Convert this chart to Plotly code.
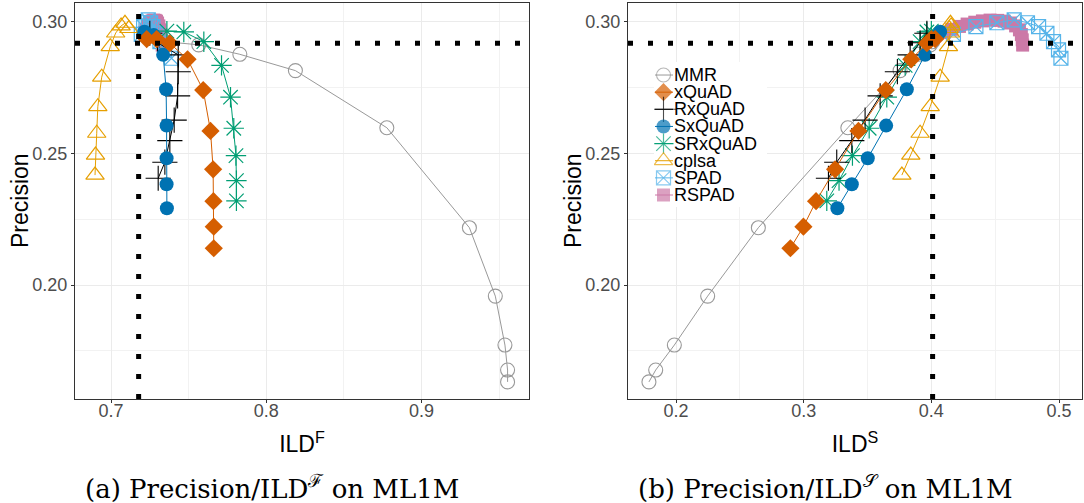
import plotly.graph_objects as go

# ---- data -------------------------------------------------------------
# Precision values are shared between the two panels; each method has one
# diversity array per panel (ILD over features / ILD over sessions).
mmr_prec = [0.2925, 0.2913, 0.2877, 0.2815, 0.2598, 0.2218, 0.1958, 0.1772, 0.1677, 0.1632]
mmr_ildf = [0.7350, 0.7565, 0.7830, 0.8188, 0.8777, 0.9309, 0.9476, 0.9538, 0.9555, 0.9555]
mmr_ilds = [0.4010, 0.3991, 0.3900, 0.3755, 0.3346, 0.2645, 0.2248, 0.1987, 0.1841, 0.1788]

xquad_prec = [0.2935, 0.2935, 0.2919, 0.2858, 0.2741, 0.2586, 0.2440, 0.2319, 0.2222, 0.2140]
xquad_ildf = [0.7230, 0.7294, 0.7379, 0.7493, 0.7594, 0.7641, 0.7658, 0.7660, 0.7662, 0.7662]
xquad_ilds = [0.4030, 0.4000, 0.3965, 0.3843, 0.3643, 0.3429, 0.3246, 0.3097, 0.2998, 0.2896]

rxquad_prec = [0.2957, 0.2921, 0.2875, 0.2811, 0.2719, 0.2627, 0.2549, 0.2467, 0.2406]
rxquad_ildf = [0.7250, 0.7300, 0.7433, 0.7433, 0.7429, 0.7407, 0.7379, 0.7347, 0.7304]
rxquad_ilds = [0.3965, 0.3912, 0.3834, 0.3734, 0.3599, 0.3481, 0.3377, 0.3259, 0.3194]

sxquad_prec = [0.2963, 0.2950, 0.2875, 0.2744, 0.2606, 0.2482, 0.2383, 0.2292]
sxquad_ildf = [0.7215, 0.7275, 0.7336, 0.7355, 0.7358, 0.7358, 0.7358, 0.7360]
sxquad_ilds = [0.4069, 0.4050, 0.3951, 0.3808, 0.3646, 0.3502, 0.3377, 0.3264]

srxquad_prec = [0.2965, 0.2962, 0.2925, 0.2835, 0.2714, 0.2596, 0.2492, 0.2397, 0.2320]
srxquad_ildf = [0.7360, 0.7469, 0.7598, 0.7712, 0.7770, 0.7791, 0.7805, 0.7808, 0.7808]
srxquad_ilds = [0.4000, 0.3965, 0.3912, 0.3795, 0.3651, 0.3513, 0.3382, 0.3277, 0.3181]

cplsa_prec = [0.2418, 0.2494, 0.2577, 0.2678, 0.2790, 0.2906, 0.2958, 0.2985, 0.2995, 0.2975]
cplsa_ildf = [0.6897, 0.6900, 0.6908, 0.6915, 0.6940, 0.6995, 0.7030, 0.7065, 0.7090, 0.7115]
cplsa_ilds = [0.3769, 0.3839, 0.3912, 0.3991, 0.4069, 0.4134, 0.4150, 0.4155, 0.4150, 0.4140]

spad_prec = [0.2953, 0.2982, 0.2997, 0.3008, 0.2997, 0.2982, 0.2957, 0.2925, 0.2894, 0.2862]
spad_ildf = [0.7195, 0.7210, 0.7225, 0.7240, 0.7255, 0.7270, 0.7290, 0.7315, 0.7345, 0.7390]
spad_ilds = [0.4173, 0.4349, 0.4513, 0.4649, 0.4753, 0.4840, 0.4905, 0.4957, 0.4996, 0.5015]

rspad_prec = [0.2960, 0.2972, 0.2983, 0.2992, 0.2999, 0.3004, 0.3007, 0.3006,
              0.3003, 0.2996, 0.2985, 0.2970, 0.2952, 0.2932, 0.2912]
rspad_ildf = [0.7215, 0.7225, 0.7235, 0.7245, 0.7255, 0.7265, 0.7275, 0.7285,
              0.7293, 0.7300, 0.7308, 0.7314, 0.7320, 0.7325, 0.7330]
rspad_ilds = [0.4100, 0.4160, 0.4220, 0.4280, 0.4340, 0.4400, 0.4460, 0.4520,
              0.4570, 0.4620, 0.4660, 0.4690, 0.4705, 0.4712, 0.4715]

# reference (undiversified) operating point
base_prec = 0.2919
base_ildf = 0.7178
base_ilds = 0.4010

method_names = ["MMR", "xQuAD", "RxQuAD", "SxQuAD", "SRxQuAD", "cplsa", "SPAD", "RSPAD"]

# ---- styling ------------------------------------------------------------
styles = {
    "MMR":     dict(color="#999999", symbol="circle-open",      size=14, lw=1.1),
    "xQuAD":   dict(color="#D55E00", symbol="diamond",          size=14, lw=0),
    "RxQuAD":  dict(color="#000000", symbol="cross-thin-open",  size=18, lw=1.1),
    "SxQuAD":  dict(color="#0072B2", symbol="circle",           size=14, lw=0),
    "SRxQuAD": dict(color="#009E73", symbol="asterisk-open",    size=17, lw=1.2),
    "cplsa":   dict(color="#E69F00", symbol="triangle-up-open", size=16, lw=1.2),
    "SPAD":    dict(color="#56B4E9", symbol="square-x-open",    size=14, lw=1.2),
    "RSPAD":   dict(color="#CC79A7", symbol="square",           size=13, lw=0),
}

series = {
    "MMR": (mmr_prec, mmr_ildf, mmr_ilds),
    "xQuAD": (xquad_prec, xquad_ildf, xquad_ilds),
    "RxQuAD": (rxquad_prec, rxquad_ildf, rxquad_ilds),
    "SxQuAD": (sxquad_prec, sxquad_ildf, sxquad_ilds),
    "SRxQuAD": (srxquad_prec, srxquad_ildf, srxquad_ilds),
    "cplsa": (cplsa_prec, cplsa_ildf, cplsa_ilds),
    "SPAD": (spad_prec, spad_ildf, spad_ilds),
    "RSPAD": (rspad_prec, rspad_ildf, rspad_ilds),
}

# drawing order, bottom to top
draw_order = ["RSPAD", "SPAD", "cplsa", "MMR", "SRxQuAD", "RxQuAD", "SxQuAD", "xQuAD"]

fig = go.Figure()
for name in draw_order:
    prec, ildf, ilds = series[name]
    st = styles[name]
    marker = dict(symbol=st["symbol"], size=st["size"], color=st["color"],
                  line=dict(width=st["lw"], color=st["color"]))
    for xa, ya, xs in (("x", "y", ildf), ("x2", "y2", ilds)):
        fig.add_trace(go.Scatter(x=xs, y=prec, mode="lines+markers", name=name,
                                 line=dict(color=st["color"], width=1), marker=marker,
                                 xaxis=xa, yaxis=ya, showlegend=False))

# dotted reference lines
dot = dict(color="black", width=5, dash="5px,15px")
for xa, ya, xv in (("x", "y", base_ildf), ("x2", "y2", base_ilds)):
    fig.add_shape(type="line", xref=f"{xa} domain", yref=ya, x0=0, x1=1,
                  y0=base_prec, y1=base_prec, line=dot, layer="above")
    fig.add_shape(type="line", xref=xa, yref=f"{ya} domain", x0=xv, x1=xv,
                  y0=0, y1=1, line=dot, layer="above")

W, H = 1084, 503
PLOT_TOP, PLOT_BOTTOM = 3, 399          # pixel rows of the panel frames
KEY_L, KEY_R, KEY_T, KEY_B = 654, 767, 62, 207
RIGHT_L, RIGHT_R = 628, 1082
ydom = [(H - PLOT_BOTTOM) / H, (H - PLOT_TOP) / H]

# ---- key inside the right panel (own hidden axes, one row per method) ----
key_rows = list(range(len(method_names)))
key_xrange = [0, KEY_R - KEY_L]
key_yrange = [7.70, -0.76]
# white key background, filled over the whole key area
fig.add_trace(go.Scatter(
    x=[key_xrange[0], key_xrange[1], key_xrange[1], key_xrange[0], key_xrange[0]],
    y=[key_yrange[0], key_yrange[0], key_yrange[1], key_yrange[1], key_yrange[0]],
    mode="lines", fill="toself", fillcolor="white", line=dict(width=0, color="white"),
    xaxis="x3", yaxis="y3", showlegend=False, hoverinfo="skip"))
for row, name in zip(key_rows, method_names):
    fig.add_trace(go.Scatter(x=[1, 19], y=[row, row], mode="lines",
                             line=dict(color=styles[name]["color"], width=1),
                             xaxis="x3", yaxis="y3", showlegend=False, hoverinfo="skip"))
fig.add_trace(go.Scatter(
    x=[9.5] * len(method_names), y=key_rows, mode="markers",
    marker=dict(symbol=[styles[n]["symbol"] for n in method_names],
                size=[styles[n]["size"] for n in method_names],
                color=[styles[n]["color"] for n in method_names],
                line=dict(width=[styles[n]["lw"] for n in method_names],
                          color=[styles[n]["color"] for n in method_names])),
    xaxis="x3", yaxis="y3", showlegend=False, hoverinfo="skip"))
key_font = dict(family="Liberation Sans", size=18, color="black")
for row, name in zip(key_rows, method_names):
    fig.add_annotation(text=name, xref="x3", yref="y3", x=19, y=row,
                       xanchor="left", yanchor="middle", showarrow=False,
                       font=key_font, borderpad=0)

common_axis = dict(
    showgrid=True, gridcolor="#EBEBEB", gridwidth=1,
    zeroline=False, showline=True, linecolor="#333333", linewidth=1, mirror=True,
    ticks="outside", ticklen=3, tickcolor="#333333",
    tickfont=dict(family="Liberation Sans", size=18, color="#4D4D4D"),
    automargin=False,
)
minor_grid = dict(showgrid=True, gridcolor="#F2F2F2", gridwidth=1, ticks="")
title_font = dict(family="Liberation Sans", size=23, color="black")
yaxis_cfg = dict(common_axis, range=[0.1567, 0.3072], tickvals=[0.20, 0.25, 0.30],
                 ticktext=["0.20", "0.25", "0.30"],
                 minor=dict(minor_grid, tickvals=[0.175, 0.225, 0.275]))

fig.update_layout(
    width=W, height=H,
    margin=dict(l=0, r=0, t=0, b=0),
    paper_bgcolor="white", plot_bgcolor="white",
    showlegend=False,
    xaxis=dict(common_axis, domain=[75 / W, 529 / W], range=[0.6768, 0.9693],
               tickvals=[0.7, 0.8, 0.9], ticktext=["0.7", "0.8", "0.9"],
               minor=dict(minor_grid, tickvals=[0.75, 0.85, 0.95]),
               title=dict(text="ILD<sup>F</sup>", standoff=8, font=title_font),
               anchor="y"),
    yaxis=dict(yaxis_cfg, domain=ydom, anchor="x"),
    xaxis2=dict(common_axis, domain=[RIGHT_L / W, RIGHT_R / W], range=[0.1624, 0.518],
                tickvals=[0.2, 0.3, 0.4, 0.5], ticktext=["0.2", "0.3", "0.4", "0.5"],
                minor=dict(minor_grid, tickvals=[0.25, 0.35, 0.45]),
                title=dict(text="ILD<sup>S</sup>", standoff=8, font=title_font),
                anchor="y2"),
    yaxis2=dict(yaxis_cfg, domain=ydom, anchor="x2"),
    xaxis3=dict(domain=[KEY_L / W, KEY_R / W], range=key_xrange, visible=False,
                fixedrange=True, anchor="y3"),
    yaxis3=dict(domain=[1 - KEY_B / H, 1 - KEY_T / H], range=key_yrange, visible=False,
                fixedrange=True, anchor="x3"),
)

# pull the x tick labels closer to the frame
try:
    fig.update_layout(xaxis_ticklabelstandoff=-8, xaxis2_ticklabelstandoff=-8,
                      xaxis_title_standoff=16, xaxis2_title_standoff=16)
except ValueError:
    pass

# y-axis titles
y_mid = 1 - (PLOT_TOP + PLOT_BOTTOM) / 2 / H
for xpix in (20, 573):
    fig.add_annotation(text="Precision", xref="paper", yref="paper", x=xpix / W, y=y_mid,
                       xanchor="center", yanchor="middle", textangle=-90,
                       showarrow=False, font=title_font)

caption_font = dict(family="DejaVu Serif", size=26, color="black")
fig.add_annotation(text="(a) Precision/ILD<sup>ℱ</sup> on ML1M", xref="paper", yref="paper",
                   x=272 / W, y=1 - 487 / H, xanchor="center", yanchor="middle",
                   showarrow=False, font=caption_font)
fig.add_annotation(text="(b) Precision/ILD<sup>𝒮</sup> on ML1M", xref="paper", yref="paper",
                   x=825 / W, y=1 - 487 / H, xanchor="center", yanchor="middle",
                   showarrow=False, font=caption_font)

fig.write_html("out.html")
